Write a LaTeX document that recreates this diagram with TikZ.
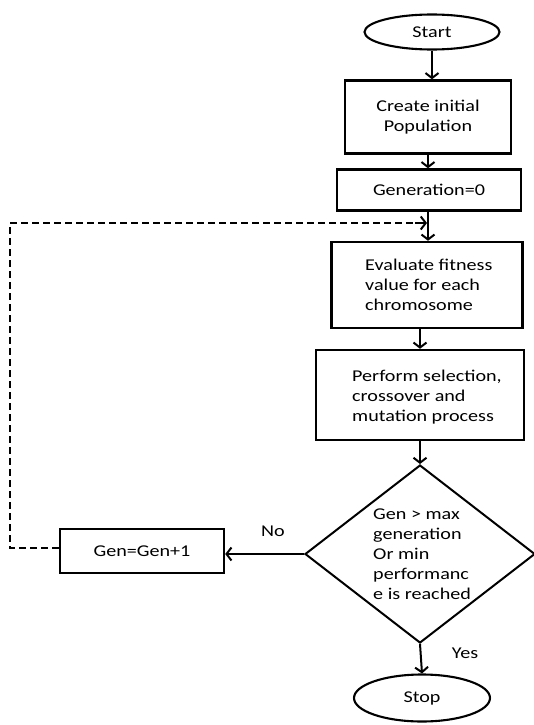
\documentclass[tikz,border=0pt]{standalone}
\usepackage{fontspec}
\setmainfont{Carlito}[FakeStretch=1.22]
\usetikzlibrary{shapes.geometric,arrows.meta}
\begin{document}
\begin{tikzpicture}[x=1pt,y=-1pt,
  font=\fontsize{16.5}{20}\selectfont,
  box/.style={draw,line width=2.4pt,inner sep=0pt},
  term/.style={draw,ellipse,line width=2.1pt,inner sep=0pt},
  lbl/.style={inner sep=0pt,align=left},
  arr/.style={line width=2pt,-{Straight Barb[length=5pt,width=13pt,line width=2pt]}},
  dashline/.style={line width=2.2pt,dash pattern=on 7pt off 4pt},
]
\useasboundingbox (0,0) rectangle (533,725);

\node[term,minimum width=135pt,minimum height=35pt] (start) at (432,32) {Start};
\node[box,minimum width=166pt,minimum height=73pt,align=center] (create) at (428,117) {Create initial\\Population};
\node[box,minimum width=184pt,minimum height=41pt] (gen0) at (429,190) {Generation=0};
\node[box,minimum width=191pt,minimum height=86pt] (eval) at (427,285) {};
\node[lbl,anchor=west] (evalt) at (365,285) {Evaluate fitness\\value for each\\chromosome};
\node[box,minimum width=208pt,minimum height=90pt] (perf) at (420,395) {};
\node[lbl,anchor=west] (perft) at (352,397) {Perform selection,\\crossover and\\mutation process};
\node[draw,diamond,line width=2pt,minimum width=230pt,minimum height=178pt,inner sep=0pt] (dec) at (420,554) {};
\node[lbl,anchor=west] (dect) at (373,554) {Gen > max\\generation\\Or min\\performanc\\e is reached};
\node[box,minimum width=164pt,minimum height=44pt] (inc) at (142,551) {Gen=Gen+1};
\node[term,minimum width=136pt,minimum height=47pt] (stop) at (422,698) {Stop};

\node[inner sep=0pt] (no) at (273,531) {No};
\node[inner sep=0pt] (yes) at (465,653) {Yes};

\draw[arr] (start.south) -- (start.south |- create.north);
\draw[arr] (create.south) -- (create.south |- gen0.north);
\draw[arr] (gen0.south -| 428,0) -- (428,0 |- eval.north);
\draw[arr] (eval.south -| perf.north) -- (perf.north);
\draw[arr] (perf.south -| dec.north) -- (dec.north);
\draw[arr] (dec.west) -- (dec.west -| inc.east);
\draw[arr] (dec.south) -- (stop.north);

\coordinate (c1) at (10,548);
\coordinate (c2) at (10,223);
\coordinate (c3) at (427,223);
\draw[dashline] (inc.west |- c1) -- (c1) -- (c2) -- (c3);
\draw[arr] (415,223) -- (c3);
\end{tikzpicture}
\end{document}
